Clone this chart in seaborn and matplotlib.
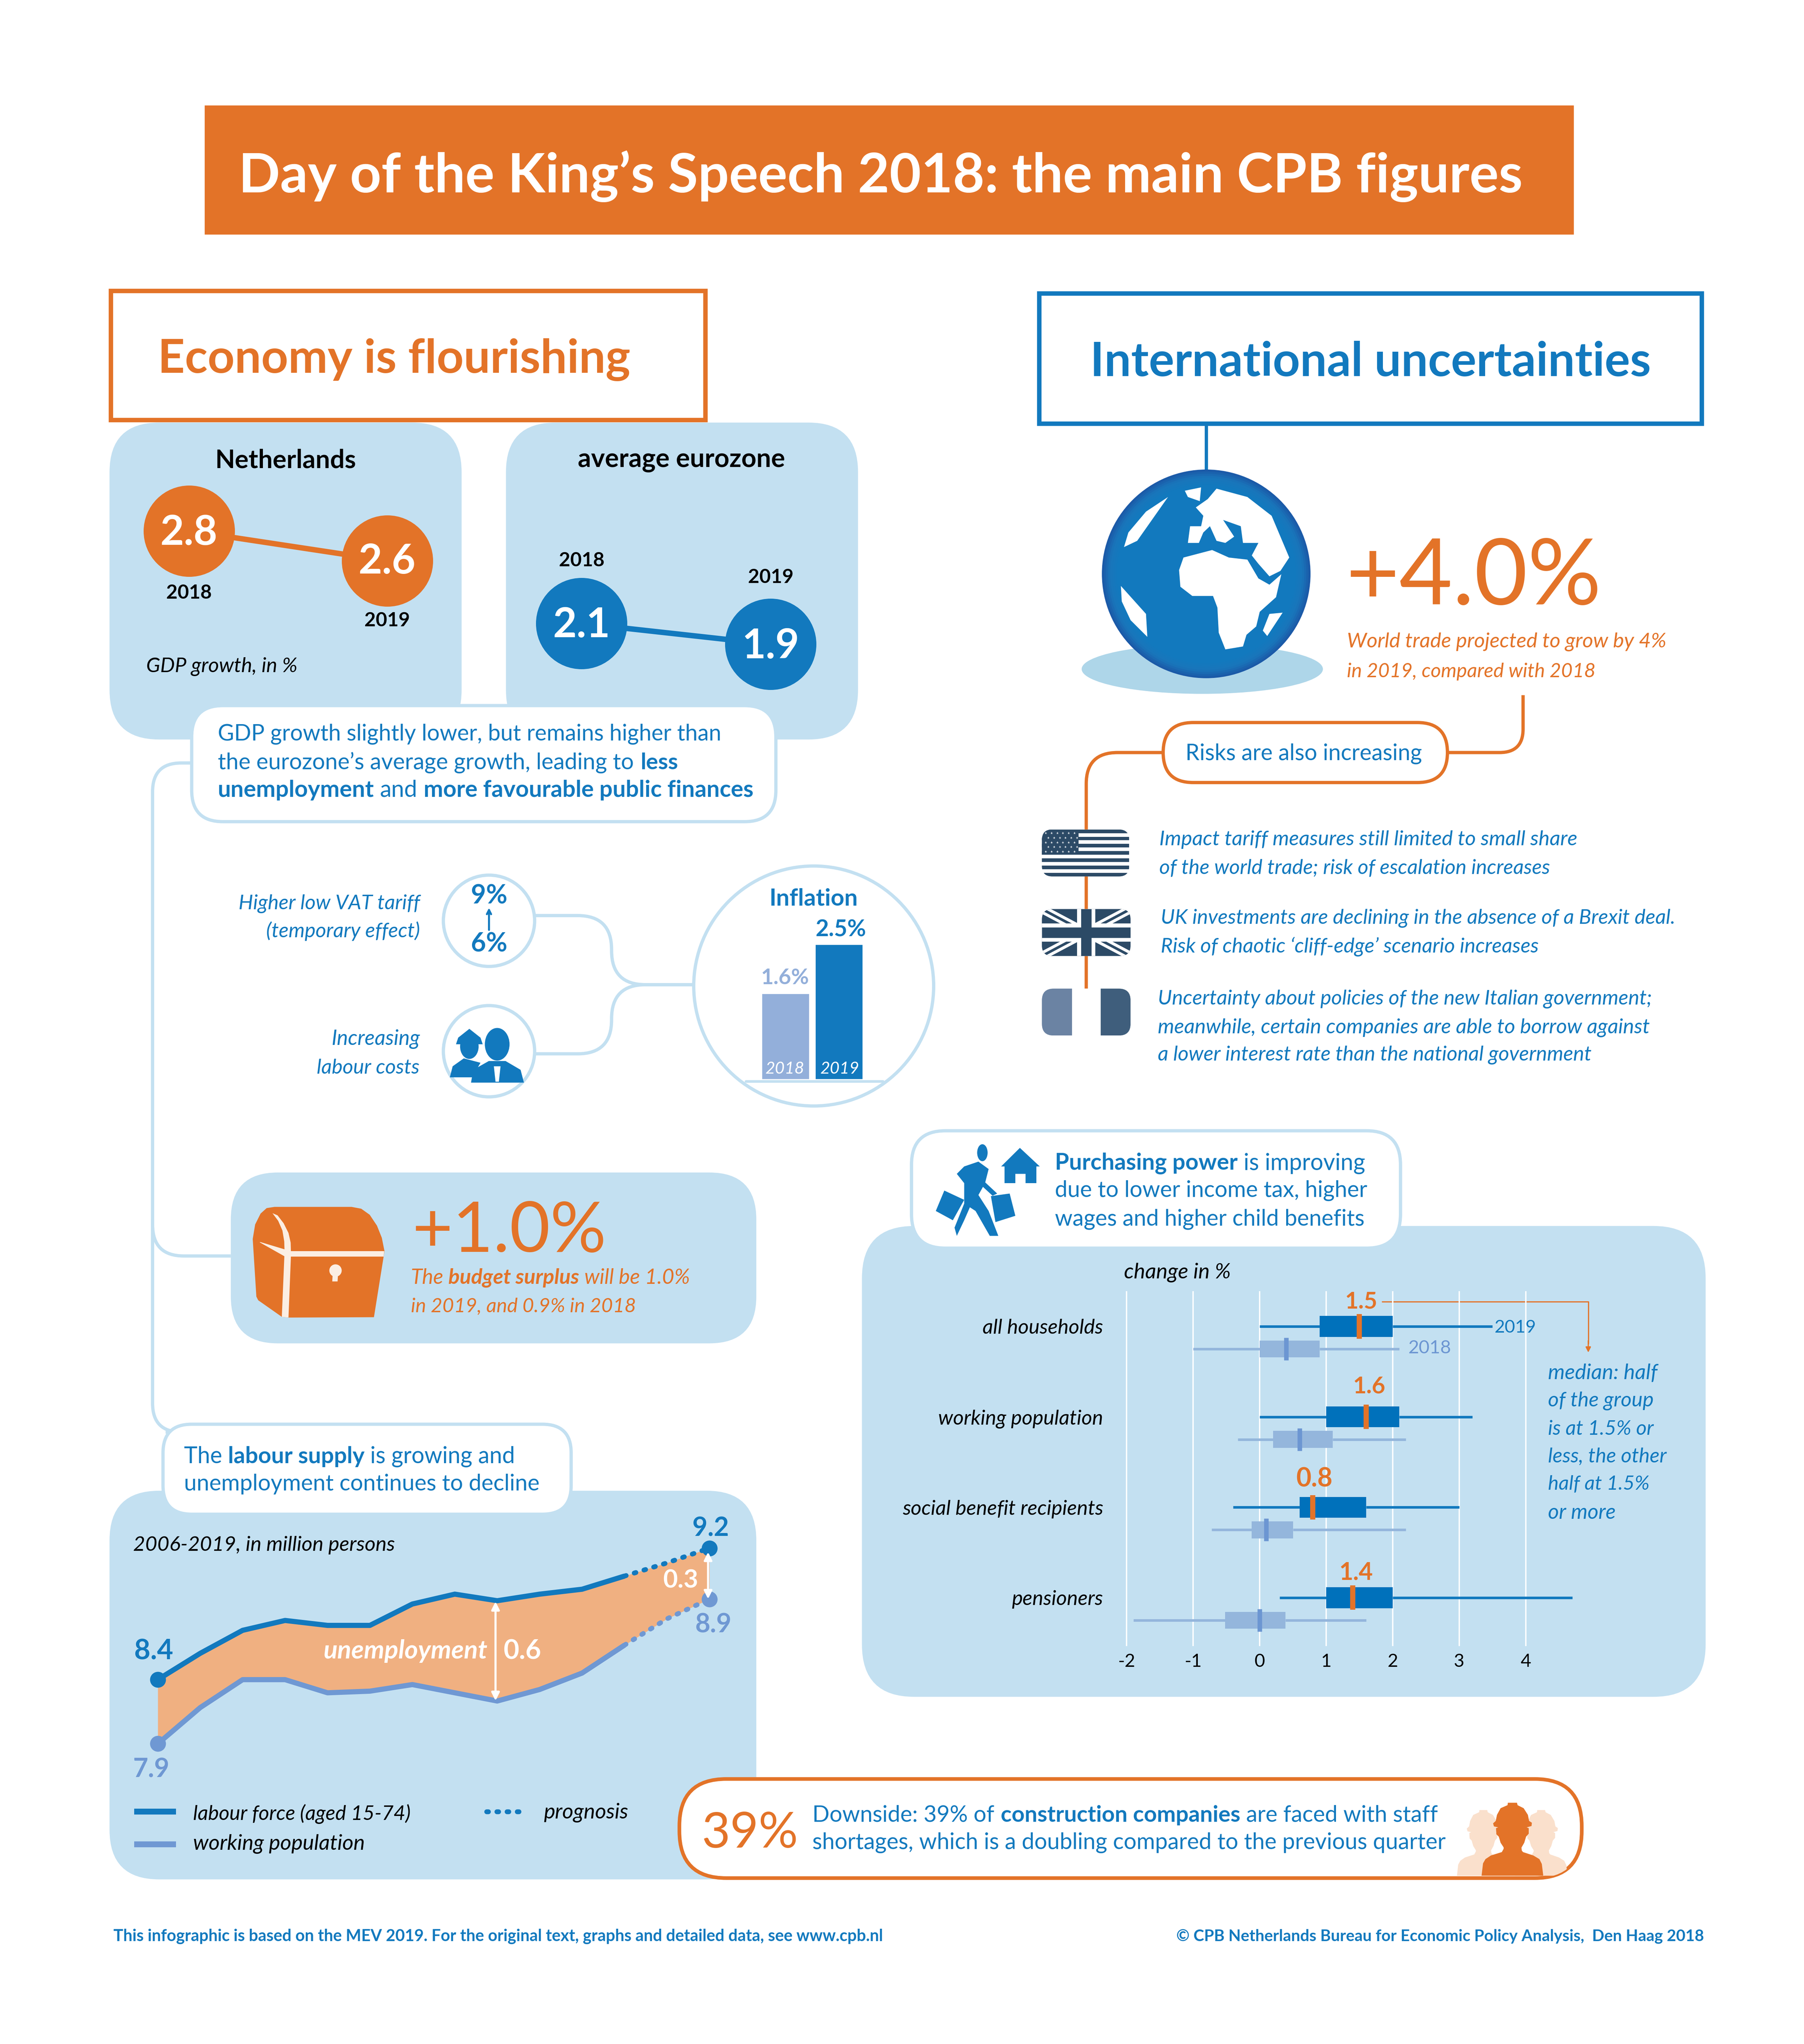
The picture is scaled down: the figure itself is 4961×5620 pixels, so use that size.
import numpy as np
import pandas as pd
import matplotlib
matplotlib.use("Agg")
import matplotlib.pyplot as plt
import seaborn as sns
from matplotlib.patches import FancyBboxPatch, Circle, Ellipse, Polygon, PathPatch, Rectangle
from matplotlib.path import Path

# ---------- data ----------
gdp_years = [2018, 2019]
gdp_nl = [2.8, 2.6]
gdp_ez = [2.1, 1.9]
infl_years = ["2018", "2019"]
infl_vals = [1.6, 2.5]
lab_years = list(range(2006, 2020))
lab_force = [8.40, 8.56, 8.70, 8.76, 8.73, 8.73, 8.86, 8.92, 8.88, 8.92, 8.95, 9.03, 9.11, 9.20]
lab_work = [8.01, 8.23, 8.40, 8.40, 8.32, 8.33, 8.37, 8.32, 8.27, 8.34, 8.44, 8.61, 8.77, 8.89]
pp_groups = ["all households", "working population", "social benefit recipients", "pensioners"]
# low whisker, q1, median, q3, high whisker
pp_2019 = [[0, 0.9, 1.5, 2.0, 3.5], [0, 1.0, 1.6, 2.1, 3.2], [-0.4, 0.6, 0.8, 1.6, 3.0], [0.3, 1.0, 1.4, 2.0, 4.7]]
pp_2018 = [[-1, 0, 0.4, 0.9, 2.1], [-0.33, 0.2, 0.6, 1.1, 2.2], [-0.72, -0.12, 0.1, 0.5, 2.2], [-1.9, -0.52, 0.0, 0.39, 1.6]]
pp_ticks = [-2, -1, 0, 1, 2, 3, 4]

# ---------- set-up ----------
sns.set_theme(style="white")
plt.rcParams["font.family"] = ["Lato", "DejaVu Sans"]
WPX, HPX = 4961, 5620
DPI = 300
S = 3.586
W, H = WPX / S, HPX / S
BLUE, ORANGE, LIGHT = "#1279BE", "#E37328", "#C3E0F1"
BOX19, BOX18, WH18, MED18, WORK = "#0071BB", "#94B6DC", "#94B6DC", "#6C96D2", "#6F98D3"
CREAM, PALE = "#FBEEE3", "#FAE0CC"
PT = S * 72 / DPI  # one layout unit in points

fig = plt.figure(figsize=(WPX / DPI, HPX / DPI), dpi=DPI, facecolor="white")


def layer(z):
    a = fig.add_axes([0, 0, 1, 1], zorder=z)
    a.set_xlim(0, W)
    a.set_ylim(H, 0)
    a.axis("off")
    a.patch.set_visible(False)
    return a


base = layer(0)
top = layer(10)
R = fig.canvas.get_renderer()


def inset(x0, y0, x1, y1):
    a = fig.add_axes([x0 / W, 1 - y1 / H, (x1 - x0) / W, (y1 - y0) / H], zorder=5)
    a.patch.set_visible(False)
    return a


def tw(s, size, **kw):
    t = top.text(0, 0, s, fontsize=size, **kw)
    w = t.get_window_extent(R).width / S
    t.remove()
    return w


def T(x0, x1, y, runs, color=BLUE, style="normal", weight="normal", maxsize=None):
    if isinstance(runs, str):
        runs = [(runs, weight)]
    ws = [tw(r, 20, style=style, weight=b) for r, b in runs]
    sp = tw("n n", 20, style=style) - 2 * tw("n", 20, style=style)
    total = sum(ws) + sp * (len(runs) - 1)
    size = 20 * (x1 - x0) / total
    if maxsize:
        size = min(size, maxsize)
    x = x0
    k = size / 20
    for (r, b), w in zip(runs, ws):
        top.text(x, y + 0.06 * size, r, fontsize=size, color=color, style=style, weight=b, ha="left", va="center")
        x += (w + sp) * k
    return size


def C(xc, y, s, w, **kw):
    return T(xc - w / 2, xc + w / 2, y, s, **kw)


def rbox(x0, y0, x1, y1, r, fc="white", ec="none", lw=0.0, z=1, ax=None):
    p = FancyBboxPatch((x0, y0), x1 - x0, y1 - y0, boxstyle=f"round,pad=0,rounding_size={r}",
                       fc=fc, ec=ec, lw=lw * PT, zorder=z)
    (ax or base).add_patch(p)
    return p


def conn(pts, color=LIGHT, lw=2.5, r=22, z=0.5):
    """Polyline with rounded corners."""
    v, c = [pts[0]], [Path.MOVETO]
    for i in range(1, len(pts) - 1):
        p, a, b = np.array(pts[i]), np.array(pts[i - 1]), np.array(pts[i + 1])
        d1 = (a - p) / np.linalg.norm(a - p)
        d2 = (b - p) / np.linalg.norm(b - p)
        v += [tuple(p + d1 * r), tuple(p), tuple(p + d2 * r)]
        c += [Path.LINETO, Path.CURVE3, Path.CURVE3]
    v.append(pts[-1])
    c.append(Path.LINETO)
    base.add_patch(PathPatch(Path(v, c), fc="none", ec=color, lw=lw * PT, capstyle="butt", zorder=z))


def poly(pts, fc, ax=None, z=3, **kw):
    p = Polygon(pts, closed=True, fc=fc, ec="none", zorder=z, **kw)
    (ax or base).add_patch(p)
    return p


# crop-to-layout helpers for tracing icons
def z1(pts):
    return [((2300 + x / 0.64) / S, (3100 + y / 0.98) / S) for x, y in pts]


def z3(pts):
    return [((2800 + x / 0.825) / S, (1200 + y / 0.871) / S) for x, y in pts]


def z4(pts):
    return [((280 + x / 0.653) / S, (1150 + y / 0.825) / S) for x, y in pts]


def zA(pts):
    return [((640 + x / 3) / S, (3200 + y / 3) / S) for x, y in pts]


def zB(pts):
    return [((3900 + x / 3) / S, (4850 + y / 3) / S) for x, y in pts]


# ---------- header ----------
base.add_patch(Rectangle((157, 81), 1050, 99, fc=ORANGE, ec="none"))
T(183, 1168, 133, "Day of the King’s Speech 2018: the main CPB figures", color="white", weight="bold")

base.add_patch(Rectangle((85, 223), 456, 99, fc="white", ec=ORANGE, lw=3.4 * PT, zorder=2))
T(121, 483, 274, "Economy is flourishing", color=ORANGE, weight="bold")
base.add_patch(Rectangle((797, 225), 508, 100, fc="white", ec=BLUE, lw=3.4 * PT, zorder=2))
T(836, 1266, 276, "International uncertainties", color=BLUE, weight="bold")

# ---------- GDP panels ----------
rbox(84, 324, 354, 567, 38, fc=LIGHT)
rbox(388, 324, 658, 567, 38, fc=LIGHT)
T(165, 273, 352, "Netherlands", color="black", weight="bold")
T(443, 602, 352, "average eurozone", color="black", weight="bold")
T(112, 228, 510, "GDP growth, in %", color="black", style="italic")

for box, vals, col in [((145, 407, 297, 430), gdp_nl, ORANGE), ((446, 478, 591, 494), gdp_ez, BLUE)]:
    a = inset(*box)
    sns.lineplot(x=gdp_years, y=vals, ax=a, color=col, linewidth=3.6, zorder=2)
    sns.scatterplot(x=gdp_years, y=vals, ax=a, color=col, s=3630, linewidth=0, zorder=3, clip_on=False)
    a.set_xlim(2018, 2019)
    a.set_ylim(vals[1], vals[0])
    a.axis("off")
for (x, y), s in zip([(145, 407), (297, 429), (446, 478), (591, 494)], ["2.8", "2.6", "2.1", "1.9"]):
    C(x, y, s, 44, color="white", weight="bold")
for (x, y), s in zip([(145, 454), (297, 475), (446, 429), (591, 442)], ["2018", "2019", "2018", "2019"]):
    C(x, y, s, 35, color="black", weight="bold")

# white statement box
rbox(147, 541, 595, 630, 24, fc="white", ec=LIGHT, lw=2.5, z=2)
T(167, 553, 562, "GDP growth slightly lower, but remains higher than")
T(167, 520, 584, [("the eurozone’s average growth, leading to", "normal"), ("less", "bold")])
T(167, 578, 605, [("unemployment", "bold"), ("and", "normal"), ("more favourable public finances", "bold")])

# left connector
conn([(147, 585), (117, 585), (117, 1098), (127, 1098)], r=22)
conn([(117, 935), (117, 963), (177, 963)], r=24)

# ---------- inflation ----------
conn([(410, 702), (469, 702), (469, 755), (532, 755)], r=26)
conn([(410, 808), (469, 808), (469, 755), (532, 755)], r=26)
base.add_patch(Circle((624, 756), 92, fc="white", ec=LIGHT, lw=2.5 * PT, zorder=2))
base.add_patch(Circle((375, 706), 35, fc="white", ec=LIGHT, lw=2.5 * PT, zorder=2))
base.add_patch(Circle((375, 806), 35, fc="white", ec=LIGHT, lw=2.5 * PT, zorder=2))
T(183, 322, 692, "Higher low VAT tariff", style="italic")
T(204, 322, 713, "(temporary effect)", style="italic")
T(254, 322, 796, "Increasing", style="italic")
T(243, 322, 818, "labour costs", style="italic")
C(375, 686, "9%", 28, weight="bold")
C(375, 723, "6%", 28, weight="bold")
top.annotate("", xy=(375, 696), xytext=(375, 713),
             arrowprops=dict(arrowstyle="->", color=BLUE, lw=1.3, shrinkA=0, shrinkB=0, mutation_scale=7))
# people icon
base.add_patch(Ellipse(z4([(660, 1425)])[0], 36 / 0.653 / S, 60 / 0.825 / S, fc=BLUE, zorder=3))
poly(z4([(640, 1405), (660, 1385), (680, 1405), (684, 1420), (636, 1420)]), BLUE)
poly(z4([(625, 1495), (630, 1470), (650, 1452), (680, 1462), (665, 1495)]), BLUE)
base.add_patch(Ellipse(z4([(710, 1420)])[0], 46 / 0.653 / S, 76 / 0.825 / S, fc=BLUE, ec="white", lw=0.6, zorder=4))
poly(z4([(663, 1507), (667, 1478), (695, 1458), (725, 1458), (752, 1478), (758, 1507)]), BLUE, z=4)
poly(z4([(704, 1470), (716, 1470), (713, 1505), (707, 1505)]), "white", z=5)

T(590, 658, 688, "Inflation", weight="bold")
base.plot([572, 677], [829, 829], color=LIGHT, lw=2 * PT, zorder=3)
a = inset(582, 724, 664, 828)
sns.barplot(x=infl_years, y=infl_vals, hue=infl_years, palette=["#93AFDA", BLUE], ax=a, width=0.9,
            legend=False, saturation=1)
a.set_xlim(-0.5, 1.5)
a.set_ylim(0, 2.5)
a.axis("off")
C(602, 749, "1.6%", 37, color="#93AFDA", weight="bold")
C(645, 712, "2.5%", 39, weight="bold")
C(602, 819, infl_years[0], 30, color="white", style="italic")
C(644, 819, infl_years[1], 30, color="white", style="italic")

# ---------- budget ----------
rbox(177, 899, 580, 1030, 36, fc=LIGHT)
poly(zA([(405, 1262), (210, 1125), (195, 1095), (165, 620), (185, 500), (230, 410), (280, 365), (345, 355),
         (980, 355), (1060, 370), (1130, 420), (1190, 510), (1230, 610), (1252, 720), (1245, 765), (1165, 1265),
         (460, 1268)]), ORANGE)
poly(zA([(328, 407), (370, 425), (420, 490), (460, 570), (478, 650), (480, 720), (1250, 720), (1245, 765), (480, 765),
         (460, 1268), (405, 1262), (426, 762), (222, 647), (228, 645), (427, 705), (425, 640), (410, 550),
         (375, 470)]), CREAM, z=4)
base.add_patch(Circle(zA([(848, 880)])[0], 51 / 3 / S, fc=CREAM, ec="none", zorder=4))
poly(zA([(824, 920), (868, 920), (865, 970), (821, 970)]), CREAM, z=4)
T(316, 465, 942, "+1.0%", color=ORANGE, weight="normal")
T(315, 529, 979, [("The", "normal"), ("budget surplus", "bold"), ("will be 1.0%", "normal")], color=ORANGE, style="italic")
T(315, 488, 1001, "in 2019, and 0.9% in 2018", color=ORANGE, style="italic")

# ---------- labour ----------
rbox(84, 1143, 580, 1441, 38, fc=LIGHT)
rbox(125, 1092, 438, 1161, 22, fc="white", ec=LIGHT, lw=2.5, z=2)
T(141, 395, 1116, [("The", "normal"), ("labour supply", "bold"), ("is growing and", "normal")])
T(141, 414, 1137, "unemployment continues to decline")
T(102, 303, 1184, "2006-2019, in million persons", color="black", style="italic")

lab = pd.DataFrame({"year": lab_years, "force": lab_force, "work": lab_work})
solid = lab[lab.year <= 2017]
prog = lab[lab.year >= 2017]
a = inset(121, 1187, 544, 1337)
a.fill_between(lab.year, lab.work, lab.force, color="#F0B081", lw=0, zorder=1)
DOT = (0, (0.35, 1.75))
for col, c in [("force", BLUE), ("work", WORK)]:
    sns.lineplot(data=solid, x="year", y=col, ax=a, color=c, linewidth=3.4, errorbar=None, zorder=3,
                 solid_capstyle="butt")
    sns.lineplot(data=prog, x="year", y=col, ax=a, color=c, linewidth=3.2, errorbar=None, zorder=3,
                 linestyle=DOT, dash_capstyle="round")
    ends = lab[lab.year.isin([2006, 2019])]
    sns.scatterplot(data=ends, x="year", y=col, ax=a, color=c, s=110, linewidth=0, zorder=4, clip_on=False)
a.set_xlim(2006, 2019)
a.set_ylim(lab_work[0], lab_force[-1])
a.axis("off")
C(118, 1265, "8.4", 30, weight="bold")
C(116, 1356, "7.9", 28, color=WORK, weight="bold")
C(545, 1171, "9.2", 28, weight="bold")
C(547, 1245, "8.9", 28, color=WORK, weight="bold")
C(522, 1211, "0.3", 27, color="white", weight="bold")
T(248, 374, 1265, "unemployment", color="white", style="italic", weight="bold")
T(386, 415, 1265, "0.6", color="white", weight="bold")
for x, y0, y1 in [(380, 1228, 1304), (543, 1190, 1226)]:
    top.annotate("", xy=(x, y0), xytext=(x, y1),
                 arrowprops=dict(arrowstyle="<|-|>", color="white", lw=1.4, shrinkA=0, shrinkB=0, mutation_scale=11))
base.plot([103, 135], [1389, 1389], color=BLUE, lw=4.5 * PT, zorder=3, solid_capstyle="butt")
base.plot([103, 135], [1414, 1414], color=WORK, lw=4.5 * PT, zorder=3, solid_capstyle="butt")
base.plot([373, 404], [1389, 1389], color=BLUE, lw=3.2, zorder=3, linestyle=DOT, dash_capstyle="round")
T(148, 315, 1390, "labour force (aged 15-74)", color="black", style="italic")
T(148, 280, 1413, "working population", color="black", style="italic")
T(417, 482, 1389, "prognosis", color="black", style="italic")

# ---------- 39 % ----------
box39 = rbox(521, 1364, 1213, 1440, 36, fc="white", ec=ORANGE, lw=2.8, z=2)
T(538, 612, 1404, "39%", color=ORANGE, weight="normal")
T(623, 1103, 1391, [("Downside: 39% of", "normal"), ("construction companies", "bold"), ("are faced with staff", "normal")])
T(623, 1110, 1412, "shortages, which is a doubling compared to the previous quarter")
worker = [(523, 922), (535, 820), (555, 785), (600, 755), (690, 727), (705, 700), (705, 688), (680, 650), (665, 600),
          (645, 580), (642, 530), (660, 523), (625, 515), (618, 490), (640, 470), (650, 420), (680, 365), (737, 340),
          (740, 320), (815, 320), (820, 340), (870, 365), (905, 420), (915, 470), (938, 485), (935, 512), (895, 523),
          (912, 530), (912, 575), (890, 600), (875, 650), (852, 690), (855, 715), (865, 727), (950, 755), (1000, 785),
          (1020, 825), (1032, 922)]
for cx in [538, 1015]:
    p = poly(zB([(cx + (x - 778) * 0.855, 922 - (922 - y) * 0.90) for x, y in worker]), PALE, z=3)
    p.set_clip_path(box39)
poly(zB(worker), ORANGE, z=3.5)

# ---------- globe ----------
conn([(925, 325), (925, 365)], color=BLUE, lw=2.5)
base.add_patch(Ellipse((922, 513), 185, 38, fc="#AED6E9", ec="none", zorder=1))
cols = sns.blend_palette(["#1B5AA8", "#1976BB", "#1279BE"], 8)
for i, col in enumerate(cols):
    base.add_patch(Circle((925, 440), 80 - i * 1.6, fc=col, ec="none", zorder=2))
land = [
    [(450, 125), (520, 145), (575, 190), (615, 290), (595, 322), (570, 335), (545, 305), (530, 285), (545, 255),
     (510, 255), (505, 215), (465, 200), (490, 240), (470, 255), (450, 250), (435, 215), (420, 230), (410, 255),
     (385, 255), (390, 215), (415, 215), (420, 190), (403, 170), (430, 150)],
    [(375, 290), (440, 272), (478, 290), (520, 295), (545, 340), (570, 355), (597, 330), (585, 385), (548, 420),
     (540, 455), (518, 475), (510, 503), (470, 510), (455, 470), (452, 410), (442, 382), (395, 382), (368, 360),
     (365, 320)],
    [(378, 130), (415, 122), (412, 155), (385, 145)],
    [(340, 145), (290, 180), (250, 230), (240, 265), (270, 250), (310, 190)],
    [(233, 358), (290, 425), (293, 480), (255, 440), (235, 395)],
    [(570, 425), (600, 422), (565, 478), (555, 465)],
]
for pts in land:
    poly(z3(pts), "white")
T(1032, 1228, 440, "+4.0%", color=ORANGE, weight="normal")
T(1033, 1278, 491, "World trade projected to grow by 4%", color=ORANGE, style="italic")
T(1033, 1224, 514, "in 2019, compared with 2018", color=ORANGE, style="italic")

# ---------- risks ----------
conn([(1168, 533), (1168, 577), (1105, 577)], color=ORANGE, r=18)
conn([(895, 577), (833, 577), (833, 762)], color=ORANGE, r=24)
rbox(892, 554, 1110, 600, 23, fc="white", ec=ORANGE, lw=2.5, z=2)
T(909, 1091, 577, "Risks are also increasing")

DK = "#2C4A66"
# US flag
us = rbox(799, 636, 866, 672, 8, fc="white", z=3)
n = 13
for i in range(0, n, 2):
    r = Rectangle((799, 636 + i * 36 / n), 67, 36 / n, fc=DK, ec="none", zorder=3.1)
    base.add_patch(r)
    r.set_clip_path(us)
r = Rectangle((799, 636), 28, 19.4, fc=DK, ec="none", zorder=3.2)
base.add_patch(r)
r.set_clip_path(us)
for row in range(5):
    for col in range(6):
        base.plot(802 + col * 4.4 + (row % 2) * 2, 639 + row * 3.5, marker="*", ms=1.8, color="white", mew=0, zorder=3.3)
# UK flag
uk = rbox(799, 697, 867, 733, 8, fc=DK, z=3)
for (xa, ya, xb, yb), lw, c, zz in [
    ((799, 697, 867, 733), 6.5, "white", 3.1), ((799, 733, 867, 697), 6.5, "white", 3.1),
    ((799, 697, 867, 733), 2, DK, 3.2), ((799, 733, 867, 697), 2, DK, 3.2),
    ((833, 697, 833, 733), 14, "white", 3.3), ((799, 715, 867, 715), 14, "white", 3.3),
    ((833, 697, 833, 733), 8, DK, 3.4), ((799, 715, 867, 715), 8, DK, 3.4),
]:
    l, = base.plot([xa, xb], [ya, yb], color=c, lw=lw * PT, zorder=zz, solid_capstyle="butt")
    l.set_clip_path(uk)
# Italian flag
it = rbox(799, 758, 867, 794, 9, fc="white", z=3)
for x0, w_, c in [(799, 23, "#6B83A3"), (822, 22, "white"), (844, 23, "#3F5E7C")]:
    r = Rectangle((x0, 758), w_, 36, fc=c, ec="none", zorder=3.1)
    base.add_patch(r)
    r.set_clip_path(it)

for x0, x1, y, s in [
    (889, 1210, 643, "Impact tariff measures still limited to small share"),
    (889, 1189, 665, "of the world trade; risk of escalation increases"),
    (890, 1285, 703, "UK investments are declining in the absence of a Brexit deal."),
    (890, 1180, 725, "Risk of chaotic ‘cliff-edge’ scenario increases"),
    (888, 1267, 765, "Uncertainty about policies of the new Italian government;"),
    (888, 1266, 787, "meanwhile, certain companies are able to borrow against"),
    (888, 1221, 808, "a lower interest rate than the national government"),
]:
    T(x0, x1, y, s, style="italic")

# ---------- purchasing power ----------
rbox(661, 940, 1308, 1301, 40, fc=LIGHT)
rbox(699, 867, 1074, 957, 26, fc="white", ec=LIGHT, lw=2.5, z=2)
T(809, 1047, 891, [("Purchasing power", "bold"), ("is improving", "normal")])
T(809, 1049, 912, "due to lower income tax, higher")
T(809, 1047, 934, "wages and higher child benefits")
base.add_patch(Ellipse(z1([(257, 68)])[0], 8, 13, fc=BLUE, ec="none", zorder=3))
poly(z1([(250, 92), (268, 112), (262, 148), (283, 178), (275, 184), (258, 160), (250, 182), (268, 225), (285, 292),
         (270, 292), (245, 225), (235, 215), (225, 250), (212, 292), (208, 270), (225, 205), (225, 150), (212, 125),
         (225, 105)]), BLUE)
poly(z1([(190, 170), (225, 195), (205, 250), (175, 225)]), BLUE)
poly(z1([(272, 185), (305, 178), (315, 238), (280, 255)]), BLUE)
poly(z1([(323, 55), (358, 105), (352, 105), (352, 150), (333, 150), (333, 125), (315, 125), (315, 150), (296, 150),
         (296, 105), (290, 105)]), BLUE)
T(862, 944, 975, "change in %", color="black", style="italic")

rows19 = pd.DataFrame([(i, v) for i, r in enumerate(pp_2019) for v in r], columns=["row", "val"])
rows18 = pd.DataFrame([(i + 0.25, v) for i, r in enumerate(pp_2018) for v in r], columns=["row", "val"])
ROW = (1225 - 1017) / 3
a = inset(966 - 2.3 * 51, 990, 966 + 5 * 51, 1262)
for df, fc, wc, wid in [(rows19, BOX19, BLUE, 16 / ROW), (rows18, BOX18, WH18, 13 / ROW)]:
    sns.boxplot(data=df, x="val", y="row", orient="y", native_scale=True, whis=(0, 100), width=wid, ax=a,
                color=fc, saturation=1, linecolor=wc, showcaps=False,
                boxprops=dict(linewidth=0, facecolor=fc), whiskerprops=dict(linewidth=1.7, color=wc),
                medianprops=dict(linewidth=0), zorder=3)
a.vlines([r[2] for r in pp_2019], np.arange(4) - 0.135, np.arange(4) + 0.135, color=ORANGE, lw=3.4, zorder=5)
a.vlines([r[2] for r in pp_2018], np.arange(4) + 0.25 - 0.125, np.arange(4) + 0.25 + 0.125, color=MED18, lw=3.0, zorder=5)
a.set_xlim(-2.3, 5)
a.set_ylim((1262 - 1017) / ROW, (990 - 1017) / ROW)
a.set_xticks(pp_ticks, [str(v) for v in pp_ticks])
a.set_yticks(range(4), pp_groups)
a.set_xlabel("")
a.set_ylabel("")
a.xaxis.grid(True, color="white", lw=0.9)
a.yaxis.grid(False)
a.set_axisbelow(True)
sns.despine(ax=a, left=True, bottom=True)
rowsize = 20 * 154 / tw(pp_groups[2], 20, style="italic")
a.tick_params(axis="y", length=0, pad=2.3, labelsize=rowsize, labelcolor="black")
a.tick_params(axis="x", length=0, pad=5, labelsize=12, labelcolor="black")
for lab_ in a.get_yticklabels():
    lab_.set_style("italic")
for med, y, x, w_ in [("1.5", 997, 1044, 25), ("1.6", 1062, 1050, 25), ("0.8", 1133, 1008, 28), ("1.4", 1205, 1040, 26)]:
    C(x, y, med, w_, color=ORANGE, weight="bold")
T(1146, 1178, 1017, "2019")
T(1080, 1113, 1033, "2018", color=MED18)
base.plot([1060, 1218, 1218], [998, 998, 1030], color=ORANGE, lw=0.8, zorder=3)
top.annotate("", xy=(1218, 1037), xytext=(1218, 1028),
             arrowprops=dict(arrowstyle="-|>", color=ORANGE, lw=0.8, shrinkA=0, shrinkB=0, mutation_scale=7))
for x1, y, s in [(1271, 1052, "median: half"), (1268, 1073, "of the group"), (1268, 1095, "is at 1.5% or"),
                 (1278, 1116, "less, the other"), (1265, 1137, "half at 1.5%"), (1239, 1159, "or more")]:
    T(1187, x1, y, s, style="italic")

# ---------- footer ----------
T(87, 678, 1484, "This infographic is based on the MEV 2019. For the original text, graphs and detailed data, see www.cpb.nl", weight="bold")
T(902, 1306, 1484, "© CPB Netherlands Bureau for Economic Policy Analysis,  Den Haag 2018", weight="bold")

fig.savefig("out.png", dpi=DPI, facecolor="white")
